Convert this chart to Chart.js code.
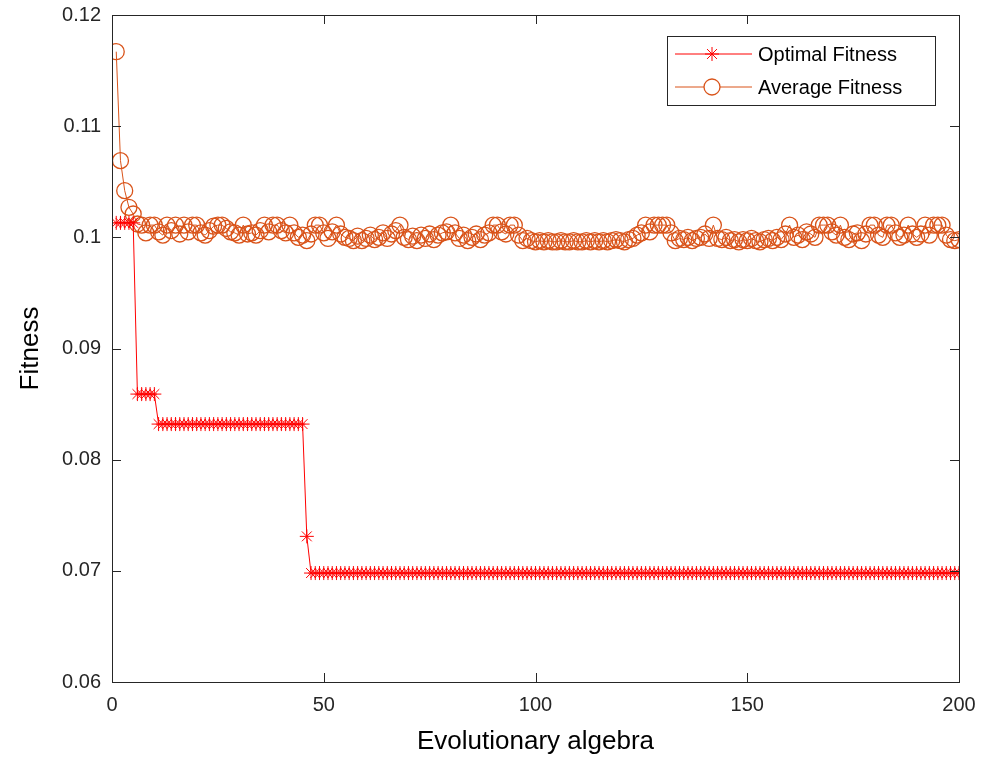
<!DOCTYPE html>
<html>
<head>
<meta charset="utf-8">
<script src="https://cdn.jsdelivr.net/npm/chart.js@4"></script>
<style>
  html, body { margin: 0; padding: 0; background: #fff; }
  #wrap { width: 992px; height: 761px; }
</style>
</head>
<body>
<div id="wrap"><canvas id="fitChart" width="992" height="761"></canvas></div>
<script>
// generations 1..200
const generations = Array.from({ length: 200 }, (_, i) => i + 1);

// best individual per generation (step levels)
const optimalFitness = [].concat(
    Array(5).fill(0.1013),
    Array(5).fill(0.0859),
    Array(35).fill(0.0832),
    [0.0731],
    Array(154).fill(0.0698)
);

// population mean per generation
const averageFitness = [
    0.1167, 0.1069, 0.1042, 0.1027, 0.1021, 0.1012, 0.1011, 0.1004, 0.1011, 0.1011,
    0.1005, 0.1002, 0.1011, 0.1006, 0.1011, 0.1003, 0.1011, 0.1005, 0.1011, 0.1011,
    0.1004, 0.1002, 0.1006, 0.1010, 0.1011, 0.1011, 0.1008, 0.1005, 0.1004, 0.1002,
    0.1011, 0.1003, 0.1004, 0.1002, 0.1006, 0.1011, 0.1005, 0.1011, 0.1011, 0.1006,
    0.1004, 0.1011, 0.1004, 0.1000, 0.1002, 0.0997, 0.1003, 0.1011, 0.1011, 0.1004,
    0.0999, 0.1005, 0.1011, 0.1003, 0.1000, 0.0999, 0.0997, 0.1001, 0.0997, 0.0999,
    0.1002, 0.0998, 0.1000, 0.1004, 0.0999, 0.1003, 0.1006, 0.1011, 0.1000, 0.0998,
    0.1001, 0.0997, 0.1002, 0.0999, 0.1003, 0.0998, 0.1002, 0.1004, 0.1005, 0.1011,
    0.1004, 0.0999, 0.1002, 0.0997, 0.1000, 0.1003, 0.0998, 0.1002, 0.1004, 0.1011,
    0.1011, 0.1005, 0.1003, 0.1011, 0.1011, 0.1002, 0.0997, 0.0999, 0.0997, 0.0996,
    0.0997, 0.0996, 0.0997, 0.0996, 0.0996, 0.0997, 0.0996, 0.0996, 0.0997, 0.0996,
    0.0996, 0.0997, 0.0996, 0.0997, 0.0996, 0.0997, 0.0996, 0.0997, 0.0998, 0.0997,
    0.0996, 0.0998, 0.0999, 0.1002, 0.1004, 0.1011, 0.1005, 0.1011, 0.1011, 0.1011,
    0.1011, 0.1004, 0.0997, 0.0999, 0.0998, 0.1000, 0.0997, 0.0999, 0.1000, 0.1003,
    0.0999, 0.1011, 0.0999, 0.0998, 0.1000, 0.0997, 0.0998, 0.0996, 0.0998, 0.0997,
    0.0999, 0.0997, 0.0996, 0.0998, 0.0999, 0.0997, 0.1000, 0.0998, 0.1003, 0.1011,
    0.1000, 0.1002, 0.0998, 0.1005, 0.1003, 0.1000, 0.1011, 0.1011, 0.1011, 0.1005,
    0.1002, 0.1011, 0.1000, 0.0998, 0.1003, 0.1004, 0.0997, 0.1003, 0.1011, 0.1011,
    0.1002, 0.1000, 0.1011, 0.1011, 0.1004, 0.1000, 0.1002, 0.1011, 0.1003, 0.1000,
    0.1003, 0.1011, 0.1002, 0.1011, 0.1011, 0.1011, 0.1002, 0.0998, 0.0997, 0.0998
];

const xTicks = [0, 50, 100, 150, 200];
const yTicks = [0.06, 0.07, 0.08, 0.09, 0.1, 0.11, 0.12];

const FONT = "'Liberation Sans', Arial, sans-serif";
const AXIS_COLOR = '#262626';
const RED = '#ff0000';
const ORANGE = '#d95319';

// box around plot + inward ticks on all four sides (matlab style)
const boxPlugin = {
    id: 'boxTicks',
    afterDatasetsDraw(chart) {
        const { ctx, chartArea: a, scales } = chart;
        ctx.save();
        ctx.strokeStyle = AXIS_COLOR;
        ctx.lineWidth = 1;
        ctx.strokeRect(a.left + 0.5, a.top + 0.5, a.right - a.left, a.bottom - a.top);
        const len = 9;
        ctx.beginPath();
        xTicks.forEach(v => {
            const x = Math.round(scales.x.getPixelForValue(v)) + 0.5;
            ctx.moveTo(x, a.bottom); ctx.lineTo(x, a.bottom - len);
            ctx.moveTo(x, a.top); ctx.lineTo(x, a.top + len);
        });
        yTicks.forEach(v => {
            const y = Math.round(scales.y.getPixelForValue(v)) + 0.5;
            ctx.moveTo(a.left, y); ctx.lineTo(a.left + len, y);
            ctx.moveTo(a.right, y); ctx.lineTo(a.right - len, y);
        });
        ctx.stroke();
        ctx.restore();
    }
};

// legend box in the top right corner of the axes
const legendPlugin = {
    id: 'insideLegend',
    afterDraw(chart) {
        const { ctx } = chart;
        const bx = 667, by = 36, bw = 268, bh = 69;
        ctx.save();
        ctx.fillStyle = '#fff';
        ctx.fillRect(bx, by, bw, bh);
        ctx.strokeStyle = AXIS_COLOR;
        ctx.lineWidth = 1;
        ctx.strokeRect(bx + 0.5, by + 0.5, bw, bh);
        chart.data.datasets.forEach((ds, i) => {
            const y = by + 18 + i * 33;
            ctx.strokeStyle = ds.borderColor;
            ctx.lineWidth = 1;
            ctx.beginPath();
            ctx.moveTo(675, y); ctx.lineTo(752, y);
            ctx.stroke();
            ctx.fillStyle = '#fff';
            ctx.lineWidth = ds.pointBorderWidth;
            Chart.helpers.drawPoint(ctx, {
                pointStyle: ds.pointStyle,
                radius: ds.pointRadius,
                borderWidth: ds.pointBorderWidth
            }, 712, y);
            ctx.fillStyle = '#000';
            ctx.font = '20px ' + FONT;
            ctx.textBaseline = 'middle';
            ctx.fillText(ds.label, 758, y + 1);
        });
        ctx.restore();
    }
};

const ctx = document.getElementById('fitChart').getContext('2d');
new Chart(ctx, {
    type: 'line',
    data: {
        datasets: [
            {
                label: 'Optimal Fitness',
                data: generations.map((g, i) => ({ x: g, y: optimalFitness[i] })),
                borderColor: RED,
                backgroundColor: 'transparent',
                borderWidth: 1,
                pointStyle: 'star',
                pointRadius: 7,
                pointBorderWidth: 1,
                pointBorderColor: RED,
                pointBackgroundColor: 'transparent',
                tension: 0
            },
            {
                label: 'Average Fitness',
                data: generations.map((g, i) => ({ x: g, y: averageFitness[i] })),
                borderColor: ORANGE,
                backgroundColor: 'transparent',
                borderWidth: 1,
                pointStyle: 'circle',
                pointRadius: 8,
                pointBorderWidth: 1.3,
                pointBorderColor: ORANGE,
                pointBackgroundColor: 'transparent',
                tension: 0
            }
        ]
    },
    options: {
        responsive: false,
        animation: false,
        events: [],
        layout: { padding: { top: 15, right: 33, left: 0, bottom: 0 } },
        plugins: {
            legend: { display: false },
            tooltip: { enabled: false }
        },
        scales: {
            x: {
                type: 'linear',
                min: 0,
                max: 200,
                afterBuildTicks: s => { s.ticks = xTicks.map(v => ({ value: v })); },
                afterFit: s => { s.height = 79; },
                grid: { display: false, drawTicks: false },
                border: { display: false },
                ticks: {
                    color: AXIS_COLOR,
                    font: { family: FONT, size: 20 },
                    padding: 11,
                    maxRotation: 0
                },
                title: {
                    display: true,
                    text: 'Evolutionary algebra',
                    color: '#000',
                    font: { family: FONT, size: 26 },
                    padding: { top: 10 }
                }
            },
            y: {
                type: 'linear',
                min: 0.06,
                max: 0.12,
                afterBuildTicks: s => { s.ticks = yTicks.map(v => ({ value: v })); },
                afterFit: s => { s.width = 112; s.paddingTop = 0; s.paddingBottom = 0; },
                grid: { display: false, drawTicks: false },
                border: { display: false },
                ticks: {
                    color: AXIS_COLOR,
                    font: { family: FONT, size: 20 },
                    padding: 11,
                    callback: v => String(Number(v.toFixed(2)))
                },
                title: {
                    display: true,
                    text: 'Fitness',
                    color: '#000',
                    font: { family: FONT, size: 26 },
                    padding: { top: 15, bottom: 0 }
                }
            }
        }
    },
    plugins: [boxPlugin, legendPlugin]
});
</script>
</body>
</html>
